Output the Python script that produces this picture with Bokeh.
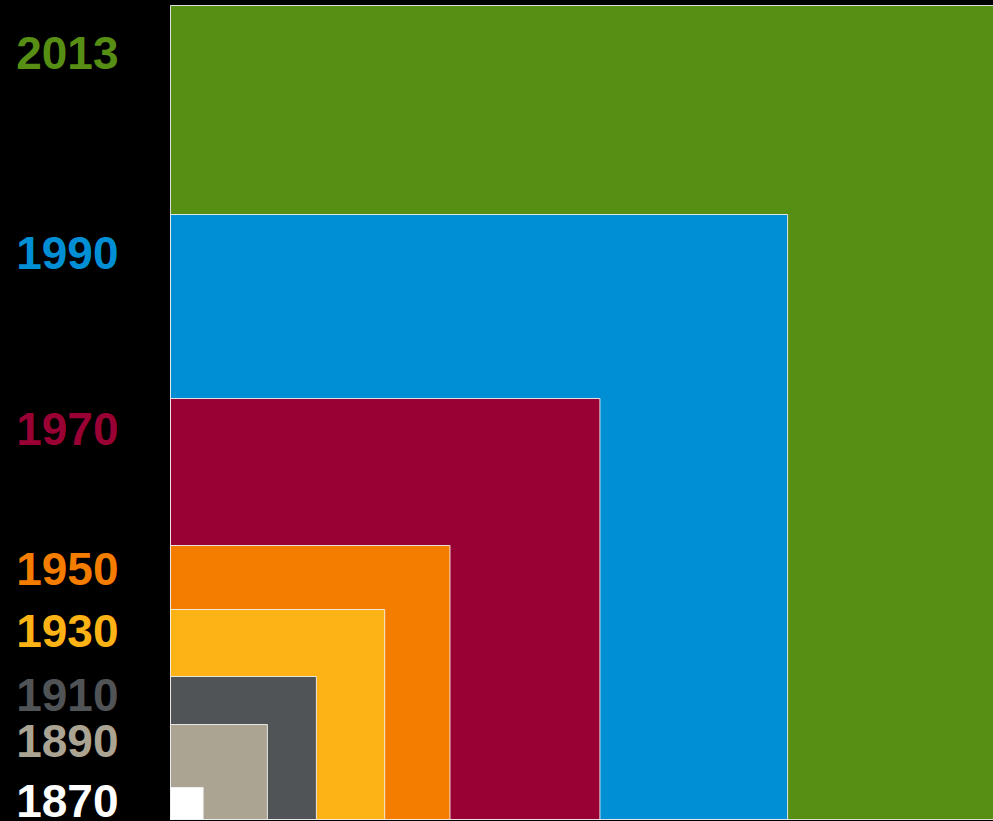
from bokeh.plotting import figure
from bokeh.models import Range1d, ColumnDataSource
from bokeh.core.properties import value
from bokeh.embed import file_html
from bokeh.resources import INLINE

# Data: years and the side length of each nested square (relative units)
years = ["2013", "1990", "1970", "1950", "1930", "1910", "1890", "1870"]
sides = [814, 605, 421, 274, 210, 143, 95, 32]
colors = ["#578E14", "#008FD5", "#990033", "#F47D00", "#FDB315",
          "#515457", "#ACA493", "#FFFFFF"]

# Layout (window px): squares anchored at x=170, y=819
KX = 1.02          # horizontal px per unit
KY = 1.0           # vertical px per unit
W, H = 993, 821
left_px = 170
bottom_px = 819

x_start = -left_px / KX
x_end = (W - left_px) / KX
y_start = -(H - bottom_px) / KY
y_end = bottom_px / KY

p = figure(width=W, height=H, output_backend="svg", toolbar_location=None,
           x_range=Range1d(x_start, x_end), y_range=Range1d(y_start, y_end),
           min_border=0, min_border_left=0, min_border_right=0,
           min_border_top=0, min_border_bottom=0)
p.background_fill_color = "black"
p.border_fill_color = "black"
p.outline_line_color = None
p.axis.visible = False
p.xgrid.grid_line_color = None
p.ygrid.grid_line_color = None

src = ColumnDataSource(dict(
    year=years,
    left=[0] * len(sides),
    bottom=[0] * len(sides),
    right=sides,
    top=sides,
    color=colors,
))
p.quad(left="left", right="right", bottom="bottom", top="top", source=src,
       fill_color="color", line_color="#F0F0F0", line_width=1, line_alpha=0.9)

# Year labels to the left, near the top of each square
label_x = (118 - 170) / KX
label_y = [s - (12 + 0.043 * s) / KY for s in sides]
lab = ColumnDataSource(dict(x=[label_x] * len(years), y=label_y,
                            text=years, color=colors))
p.text(x="x", y="y", text="text", source=lab, text_color="color",
       text_font=value("Liberation Sans"), text_font_style="bold",
       text_font_size="46px", text_align="right", text_baseline="alphabetic")

html = file_html(p, INLINE)
html = html.replace("<head>", "<head><style>html,body{background:#000;}</style>", 1)
open("out.html", "w").write(html)
